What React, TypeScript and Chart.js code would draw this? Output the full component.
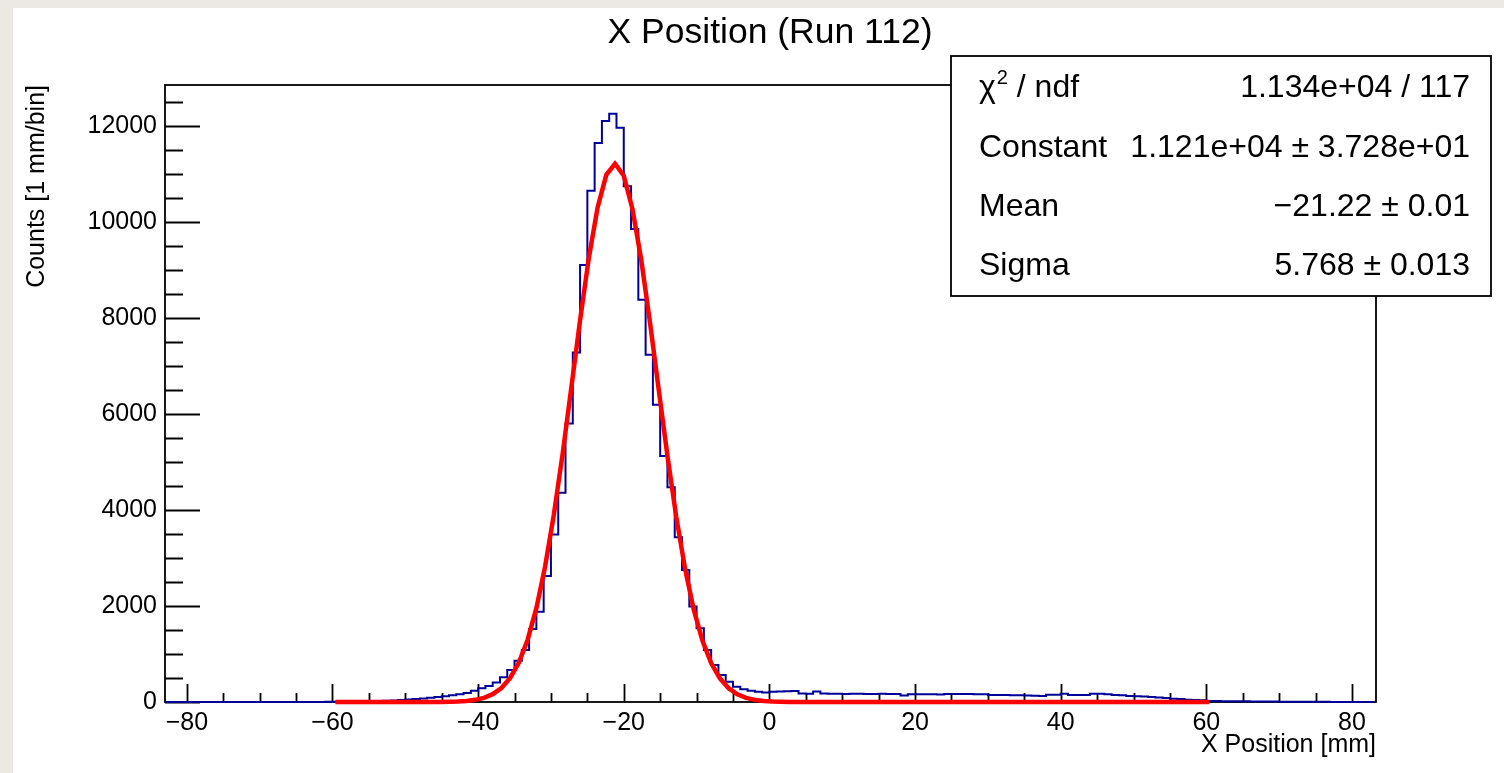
import React, { useEffect, useRef } from 'react';
import { Chart, registerables } from 'chart.js';

Chart.register(...registerables);

const TITLE = 'X Position (Run 112)';
const X_TITLE = 'X Position [mm]';
const Y_TITLE = 'Counts [1 mm/bin]';

// Histogram: 1 mm bins, lower edge of first bin at BIN_START
const BIN_START = -83;
const BIN_WIDTH = 1;
const COUNTS = [
  // -83 .. -61
  0, 0, 0, 0, 0, 0, 0, 0, 0, 0, 0, 0, 0, 0, 0, 0, 0, 0, 1, 1, 2, 2, 3,
  // -60 .. -41
  4, 5, 6, 8, 10, 14, 19, 25, 32, 40, 50, 62, 75, 90, 105, 122, 140, 160, 185, 236,
  // -40 .. -21
  285, 333, 405, 515, 665, 860, 1085, 1520, 1880, 2625, 3490, 4360, 5800, 7280, 9100, 10650, 11640, 12100, 12250, 11960,
  // -20 .. -1
  10740, 9850, 8380, 7230, 6190, 5125, 4470, 3430, 2750, 1990, 1535, 1085, 770, 560, 420, 320, 265, 235, 212, 196,
  // 0 .. 19
  215, 220, 222, 229, 178, 174, 220, 176, 172, 170, 168, 172, 170, 165, 168, 170, 166, 168, 135, 160,
  // 20 .. 39
  162, 160, 164, 158, 166, 168, 165, 168, 164, 160, 148, 146, 148, 140, 138, 135, 130, 126, 150, 153,
  // 40 .. 59
  174, 146, 146, 148, 174, 174, 160, 146, 140, 125, 122, 115, 104, 95, 83, 70, 62, 49, 42, 35,
  // 60 .. 82
  21, 20, 18, 16, 14, 14, 13, 12, 10, 9, 7, 7, 6, 5, 4, 3, 3, 2, 2, 1, 1, 1, 0,
];

// Gaussian fit curve as drawn (points every 1.2 mm starting at FIT_START)
const FIT_START = -59.6;
const FIT_STEP = 1.2;
const FIT_VALUES = [
  0, 0, 0, 0, 0, 0, 0, 0, 0, 0, 0, 1,
  2, 5, 10, 22, 45, 87, 163, 292, 501, 823,
  1297, 1955, 2823, 3901, 5164, 6549, 7952, 9246, 10295, 10978,
  11210, 10962, 10265, 9206, 7906, 6502, 5122, 3863, 2790, 1929,
  1278, 811, 493, 287, 160, 85, 44, 21, 10, 4,
  2, 1,
  0, 0, 0, 0, 0, 0, 0, 0, 0, 0, 0, 0, 0, 0, 0, 0, 0, 0, 0, 0, 0, 0, 0, 0,
  0, 0, 0, 0, 0, 0, 0, 0, 0, 0, 0, 0, 0, 0, 0, 0, 0, 0, 0, 0, 0, 0, 0,
];

const X_TICKS = [-80, -60, -40, -20, 0, 20, 40, 60, 80];
const Y_TICKS = [0, 2000, 4000, 6000, 8000, 10000, 12000];
const X_MINOR_STEP = 5;
const Y_MINOR_STEP = 500;
const X_MIN = -83;
const X_MAX = 83.3;
const Y_MAX = 12850;

const STATS_LABELS = ['χ', 'Constant', 'Mean', 'Sigma'];
const STATS_VALUES = ['1.134e+04 / 117', '1.121e+04 ± 3.728e+01', '−21.22 ± 0.01', '5.768 ± 0.013'];

const FONT = '"Liberation Sans", Arial, Helvetica, sans-serif';
const HIST_COLOR = '#000099';
const FIT_COLOR = '#ff0000';

const fmt = (v: number) => (v < 0 ? '−' + Math.abs(v) : String(v));

const rootPlugin = {
  id: 'rootStyle',
  beforeDraw(chart: any) {
    const { ctx, width, height } = chart;
    ctx.save();
    ctx.fillStyle = '#ece9e5';
    ctx.fillRect(0, 0, width, height);
    ctx.fillStyle = '#ffffff';
    ctx.fillRect(13, 8, width - 13, height - 8);
    ctx.restore();
  },
  beforeDatasetsDraw(chart: any) {
    const { ctx, chartArea: a, scales } = chart;
    const x = scales.x;
    const y = scales.y;
    ctx.save();
    ctx.strokeStyle = '#000';
    ctx.lineWidth = 1.8;
    ctx.strokeRect(a.left, a.top, a.right - a.left, a.bottom - a.top);
    ctx.lineWidth = 1.8;
    ctx.beginPath();
    const x0 = X_TICKS[0];
    const x1 = X_TICKS[X_TICKS.length - 1];
    for (let v = x0; v <= x1 + 1e-9; v += X_MINOR_STEP) {
      const px = Math.round(x.getPixelForValue(v)) + 0.5;
      const major = X_TICKS.includes(v);
      const len = major ? 18 : 9;
      ctx.moveTo(px, a.bottom);
      ctx.lineTo(px, a.bottom - len);
    }
    for (let v = 0; v <= Y_MAX; v += Y_MINOR_STEP) {
      const py = Math.round(y.getPixelForValue(v)) + 0.5;
      const major = Y_TICKS.includes(v);
      const len = major ? 35 : 18;
      ctx.moveTo(a.left, py);
      ctx.lineTo(a.left + len, py);
    }
    ctx.stroke();
    ctx.restore();
  },
  afterDraw(chart: any) {
    const { ctx } = chart;
    ctx.save();
    // Title
    ctx.fillStyle = '#000';
    ctx.font = `35.5px ${FONT}`;
    ctx.textAlign = 'center';
    ctx.textBaseline = 'middle';
    ctx.fillText(TITLE, 770, 33);

    // Stats box
    const bx = 951, by = 56, bw = 540, bh = 240;
    ctx.fillStyle = '#fff';
    ctx.fillRect(bx, by, bw, bh);
    ctx.strokeStyle = '#000';
    ctx.lineWidth = 1.8;
    ctx.strokeRect(bx, by, bw, bh);
    const rows = [88, 148, 207, 266];
    ctx.fillStyle = '#000';
    ctx.textBaseline = 'middle';
    const fs = 32;
    for (let i = 0; i < STATS_LABELS.length; i++) {
      ctx.textAlign = 'left';
      ctx.font = `${fs}px ${FONT}`;
      if (i === 0) {
        ctx.fillText('χ', 979, rows[i]);
        const w = ctx.measureText('χ').width;
        ctx.font = `20px ${FONT}`;
        ctx.fillText('2', 979 + w + 1, rows[i] - 10);
        const w2 = ctx.measureText('2').width;
        ctx.font = `${fs}px ${FONT}`;
        ctx.fillText(' / ndf', 979 + w + w2 + 1, rows[i]);
      } else {
        ctx.fillText(STATS_LABELS[i], 979, rows[i]);
      }
      ctx.textAlign = 'right';
      ctx.fillText(STATS_VALUES[i], 1470, rows[i]);
    }
    ctx.restore();
  },
};

export default function App() {
  const ref = useRef<HTMLCanvasElement>(null);

  useEffect(() => {
    const histPoints: { x: number; y: number }[] = COUNTS.map((c, i) => ({ x: BIN_START + i * BIN_WIDTH, y: c }));
    histPoints.push({ x: BIN_START + COUNTS.length * BIN_WIDTH, y: COUNTS[COUNTS.length - 1] });
    const fitPoints = FIT_VALUES.map((v, i) => ({ x: FIT_START + i * FIT_STEP, y: v }));

    const chart = new Chart(ref.current as HTMLCanvasElement, {
      type: 'line',
      data: {
        datasets: [
          {
            label: 'fit',
            data: fitPoints,
            borderColor: FIT_COLOR,
            borderWidth: 4.5,
            pointRadius: 0,
            tension: 0,
            fill: false,
            clip: false as any,
          },
          {
            label: 'hist',
            data: histPoints,
            borderColor: HIST_COLOR,
            borderWidth: 2,
            pointRadius: 0,
            stepped: 'before',
            tension: 0,
            fill: false,
            clip: false as any,
          },
        ],
      },
      options: {
        responsive: false,
        animation: false,
        devicePixelRatio: 1,
        events: [],
        layout: { padding: { left: 0, top: 85, right: 128, bottom: 0 } },
        plugins: { legend: { display: false }, tooltip: { enabled: false }, title: { display: false } },
        scales: {
          x: {
            type: 'linear',
            min: X_MIN,
            max: X_MAX,
            grid: { display: false, drawTicks: false },
            border: { display: false },
            afterBuildTicks: (s: any) => {
              s.ticks = X_TICKS.map((v) => ({ value: v }));
            },
            afterFit: (s: any) => {
              s.height = 71;
            },
            ticks: {
              includeBounds: false,
              autoSkip: false,
              maxRotation: 0,
              padding: 6,
              color: '#000',
              font: { family: FONT, size: 25 },
              callback: (v: any) => fmt(Number(v)),
            },
            title: {
              display: true,
              text: X_TITLE,
              align: 'end',
              color: '#000',
              font: { family: FONT, size: 25 },
              padding: { top: 0, bottom: 13 },
            },
          },
          y: {
            type: 'linear',
            min: 0,
            max: Y_MAX,
            grid: { display: false, drawTicks: false },
            border: { display: false },
            afterBuildTicks: (s: any) => {
              s.ticks = Y_TICKS.map((v) => ({ value: v }));
            },
            afterFit: (s: any) => {
              s.width = 165;
            },
            ticks: {
              includeBounds: false,
              autoSkip: false,
              padding: 8,
              color: '#000',
              font: { family: FONT, size: 25 },
              callback: (v: any) => fmt(Number(v)),
            },
            title: {
              display: true,
              text: Y_TITLE,
              align: 'end',
              color: '#000',
              font: { family: FONT, size: 25 },
              padding: { top: 22, bottom: 0 },
            },
          },
        },
      },
      plugins: [rootPlugin],
    } as any);

    return () => chart.destroy();
  }, []);

  return (
    <div style={{ position: 'fixed', left: 0, top: 0, width: 1504, height: 773, overflow: 'hidden' }}>
      <canvas ref={ref} width={1504} height={773} style={{ display: 'block', width: 1504, height: 773 }} />
    </div>
  );
}
